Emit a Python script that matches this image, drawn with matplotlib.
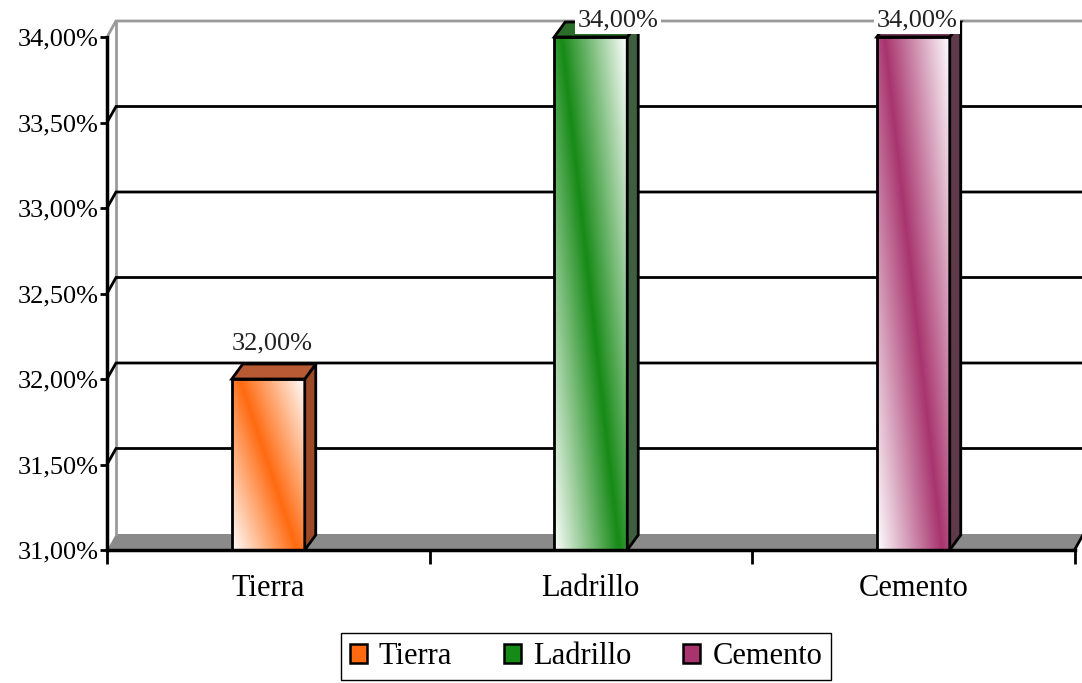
import numpy as np
import matplotlib
matplotlib.use("Agg")
import matplotlib.pyplot as plt
from matplotlib.patches import Polygon, Rectangle, Patch
from matplotlib.colors import to_rgb

# datos
categorias = ["Tierra", "Ladrillo", "Cemento"]
porcentajes = [32.0, 34.0, 34.0]
colores = ["#ff6a10", "#168a16", "#a8346e"]
lados = ["#9c4a26", "#3f5e3f", "#5e3a4a"]
techos = ["#b85a34", "#2a6e2a", "#7a3a5a"]
y_ticks = [31.0, 31.5, 32.0, 32.5, 33.0, 33.5, 34.0]
y_tick_labels = ["31,00%", "31,50%", "32,00%", "32,50%", "33,00%", "33,50%", "34,00%"]

plt.rcParams["font.family"] = ["Liberation Serif", "DejaVu Serif"]

W, H = 1082, 683
fig = plt.figure(figsize=(W / 100, H / 100), dpi=100)
x_px = 322.5   # pixeles por categoria
y_px = 171.0   # pixeles por punto porcentual
ax = fig.add_axes([107 / W, (H - 550) / H, (W - 107) / W, 550 / H])
x0, x1 = -0.5, -0.5 + (W - 107) / x_px
y0, y1 = 31.0, 31.0 + 550 / y_px

# profundidad de la pared y de las barras
dxw, dyw = 9 / x_px, 16 / y_px
dxb, dyb = 11 / x_px, 15 / y_px
ancho = 73 / x_px

# piso gris
ax.add_patch(Polygon([(x0, y0), (x0 + dxw, y0 + dyw), (2.5 + dxw, y0 + dyw), (2.5, y0)],
                     closed=True, facecolor="#8a8a8a", edgecolor="none", zorder=1))
ax.plot([2.5, 2.5 + dxw], [y0, y0 + dyw], color="black", lw=2, zorder=2, clip_on=False)

# pared del fondo y lineas de division
ax.plot([x0 + dxw, x0 + dxw], [y0 + dyw, 34 + dyw], color="#9a9a9a", lw=2, zorder=1)
for v in y_ticks[1:]:
    c = "#9a9a9a" if v == 34.0 else "black"
    ax.plot([x0, x0 + dxw, x1], [v, v + dyw, v + dyw], color=c, lw=2, zorder=1,
            solid_joinstyle="miter")


def degradado(rgb, n_u, n_v, k):
    u = np.linspace(0, 1, n_u)[None, :]
    v = np.linspace(0, 1, n_v)[:, None]
    t = np.clip(np.abs(u - 0.1 - v * 0.8) * k, 0, 1)[..., None]
    return rgb * (1 - t) + np.ones(3) * t


# barras con degradado
for i, (val, col) in enumerate(zip(porcentajes, colores)):
    a, b = i - ancho / 2, i + ancho / 2
    rgb = np.array(to_rgb(col))
    ax.imshow(degradado(rgb, 60, 300, 1.1), extent=(a, b, y0, val), aspect="auto",
              origin="upper", interpolation="bilinear", zorder=3)
    ax.add_patch(Rectangle((a, y0), ancho, val - y0, fill=False, edgecolor="black",
                           lw=2, zorder=4))
    ax.add_patch(Polygon([(b, y0), (b + dxb, y0 + dyb), (b + dxb, val + dyb), (b, val)],
                         closed=True, facecolor=lados[i], edgecolor="black", lw=2, zorder=4))
    ax.add_patch(Polygon([(a, val), (a + dxb, val + dyb), (b + dxb, val + dyb), (b, val)],
                         closed=True, facecolor=techos[i], edgecolor="black", lw=2, zorder=4))

# etiquetas de valor
label_dx = [4, 27, 4]
for i, val in enumerate(porcentajes):
    ly = min(val + dyb + 21 / y_px, 34.0 + 17 / y_px)
    ax.annotate(f"{val:.2f}%".replace(".", ","), xy=(i, ly), xytext=(label_dx[i], 0),
                textcoords="offset pixels", ha="center", va="center", fontsize=19,
                color="#222222", zorder=6,
                bbox=dict(boxstyle="square,pad=0.1", facecolor="white", edgecolor="none"))

ax.set_xlim(x0, x1)
ax.set_ylim(y0, y1)

# ejes
for s in ["top", "right"]:
    ax.spines[s].set_visible(False)
ax.spines["left"].set_bounds(31, 34)
ax.spines["bottom"].set_bounds(-0.5, 2.5)
ax.spines["left"].set_linewidth(2.5)
ax.spines["bottom"].set_linewidth(2.5)
ax.spines["left"].set_zorder(5)
ax.spines["bottom"].set_zorder(5)
ax.set_yticks(y_ticks)
ax.set_yticklabels(y_tick_labels, fontsize=19)
ax.tick_params(axis="y", length=5, width=2, pad=1, direction="out")
ax.set_xticks([-0.5, 0.5, 1.5, 2.5])
ax.set_xticklabels([])
ax.tick_params(axis="x", which="major", length=10, width=2, direction="out")
ax.set_xticks([0, 1, 2], minor=True)
ax.set_xticklabels(categorias, minor=True, fontsize=22)
ax.tick_params(axis="x", which="minor", length=0, pad=17)

# leyenda
handles = [Patch(facecolor=c, edgecolor="black", lw=1.8) for c in colores]
fig.legend(handles, categorias, loc="upper center", ncol=3,
           bbox_to_anchor=(586 / W, 1 - 633 / H), fontsize=22, frameon=True,
           fancybox=False, edgecolor="black", handlelength=0.55, handleheight=0.55,
           handletextpad=0.4, columnspacing=1.7, borderpad=0.3, borderaxespad=0,
           framealpha=1)

fig.savefig("out.png", dpi=100)
